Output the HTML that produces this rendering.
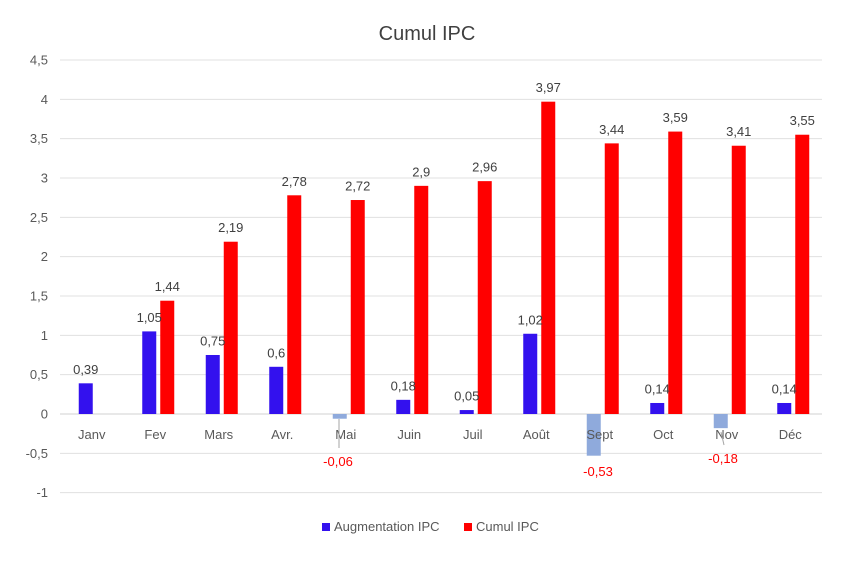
<!DOCTYPE html>
<html><head><meta charset="utf-8"><style>
html,body{margin:0;padding:0;background:#fff;}
svg text{font-family:"Liberation Sans",sans-serif;}
</style></head><body>
<svg id="c" width="864" height="575" xmlns="http://www.w3.org/2000/svg"></svg>
<script>
var s='';
var y=v=>414-78.67*v;
s+='<rect x="0" y="0" width="864" height="575" fill="#fff"/>';
s+='<text x="427" y="40" font-size="20" fill="#404040" text-anchor="middle">Cumul IPC</text>';
var ticks=[4.5,4,3.5,3,2.5,2,1.5,1,0.5,0,-0.5,-1];
ticks.forEach(t=>{var yy=y(t);
 s+='<line x1="60" x2="822" y1="'+yy+'" y2="'+yy+'" stroke="'+(t==0?'#d0d0d0':'#e0e0e0')+'" stroke-width="1"/>';
 s+='<text x="48" y="'+(yy+4.5)+'" font-size="13" fill="#595959" text-anchor="end">'+String(t).replace('.',',')+'</text>';});
var cats=['Janv','Fev','Mars','Avr.','Mai','Juin','Juil','Août','Sept','Oct','Nov','Déc'];
var b=[.39,1.05,.75,.6,-.06,.18,.05,1.02,-.53,.14,-.18,.14];
var r=[0,1.44,2.19,2.78,2.72,2.9,2.96,3.97,3.44,3.59,3.41,3.55];
var bars='',labs='';
cats.forEach((c,i)=>{var cx=60+63.5*(i+0.5);
 var v=b[i],bx=cx-13;
 if(v>=0){bars+='<rect x="'+bx+'" y="'+y(v)+'" width="14" height="'+(414-y(v))+'" fill="#3311ee"/>';
  labs+='<text x="'+(bx+7)+'" y="'+(y(v)-9.5)+'" font-size="13" fill="#404040" text-anchor="middle">'+String(v).replace('.',',')+'</text>';}
 else{bars+='<rect x="'+bx+'" y="414" width="14" height="'+(y(v)-414)+'" fill="#8faadc"/>';}
 if(r[i]>0){var rx=cx+5;bars+='<rect x="'+rx+'" y="'+y(r[i])+'" width="14" height="'+(414-y(r[i]))+'" fill="#ff0000"/>';
  labs+='<text x="'+(rx+7)+'" y="'+(y(r[i])-9.5)+'" font-size="13" fill="#404040" text-anchor="middle">'+String(r[i]).replace('.',',')+'</text>';}
 labs+='<text x="'+cx+'" y="439" font-size="13" fill="#595959" text-anchor="middle">'+c+'</text>';
});
s+=bars+labs;
s+='<line x1="339" y1="419" x2="339" y2="448" stroke="#a6a6a6" stroke-width="1"/>';
s+='<line x1="721" y1="432" x2="724" y2="445" stroke="#a6a6a6" stroke-width="1"/>';
s+='<text x="338" y="466" font-size="13" fill="#ff0000" text-anchor="middle">-0,06</text>';
s+='<text x="598" y="476" font-size="13" fill="#ff0000" text-anchor="middle">-0,53</text>';
s+='<text x="723" y="463" font-size="13" fill="#ff0000" text-anchor="middle">-0,18</text>';
s+='<rect x="322" y="523" width="8" height="8" fill="#3311ee"/><text x="334" y="531" font-size="13" fill="#595959">Augmentation IPC</text>';
s+='<rect x="464" y="523" width="8" height="8" fill="#ff0000"/><text x="476" y="531" font-size="13" fill="#595959">Cumul IPC</text>';
document.getElementById('c').innerHTML=s;
</script>
</body></html>
